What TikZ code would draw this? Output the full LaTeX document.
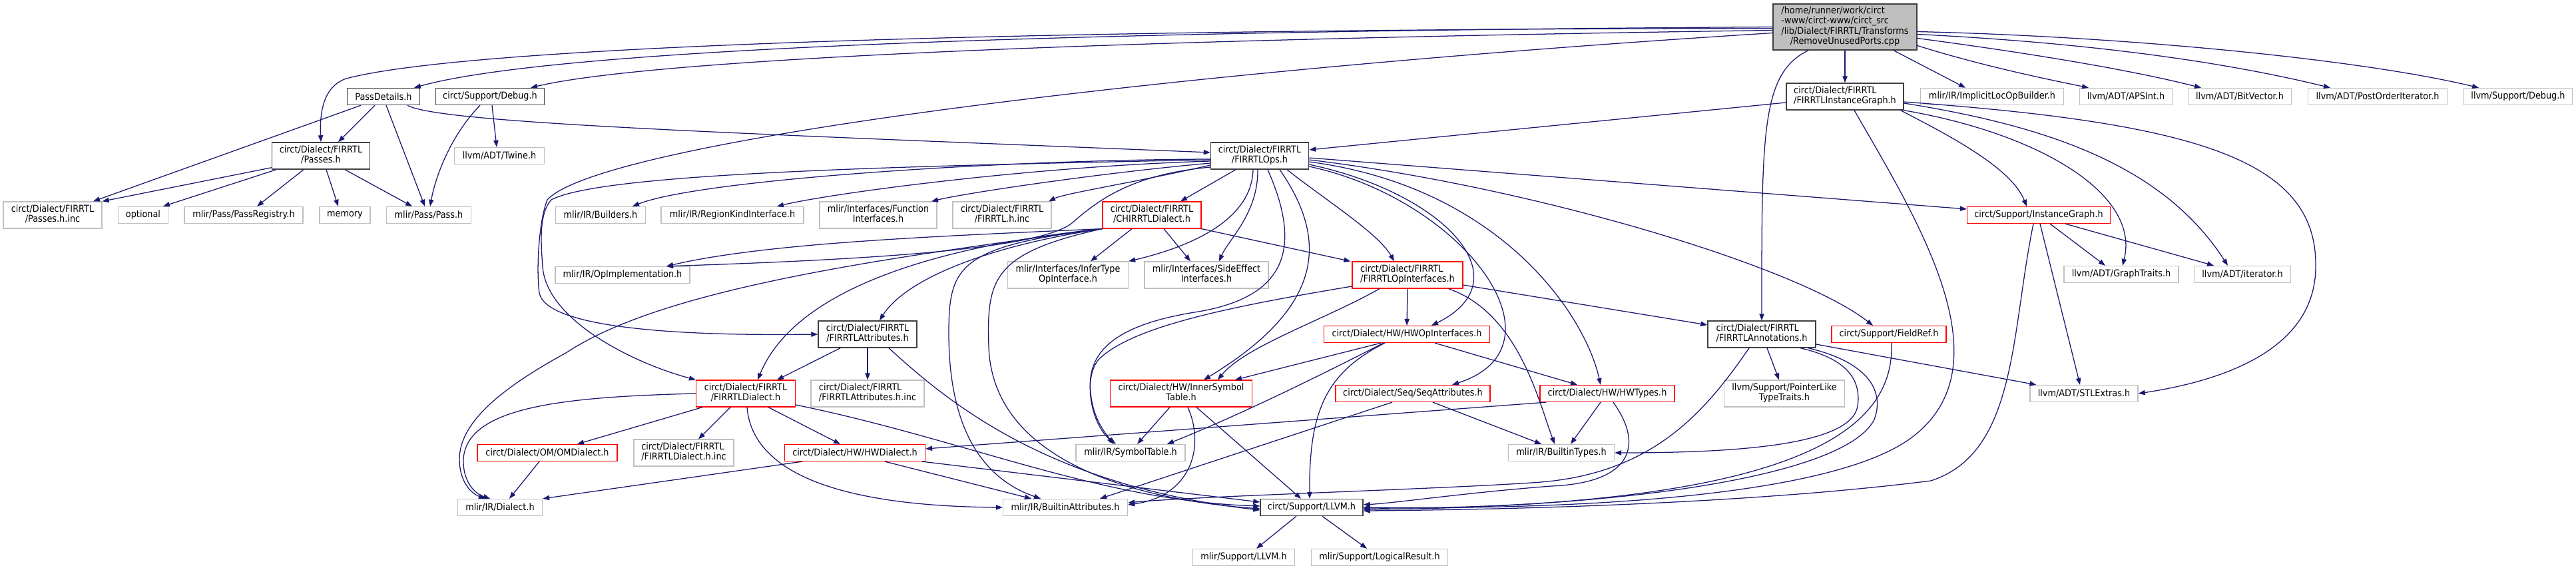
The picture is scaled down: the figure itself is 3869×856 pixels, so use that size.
\documentclass[tikz,border=0pt]{standalone}
\usepackage{fontspec}
\usetikzlibrary{arrows.meta,calc}
\newfontfamily\dxfont{DejaVu Sans}[FakeStretch=0.9]
\definecolor{edgec}{HTML}{191970}
\definecolor{gbord}{HTML}{BFBFBF}
\definecolor{dbord}{HTML}{404040}
\definecolor{rbord}{HTML}{FF0000}
\newcommand\twol[2]{\begin{tabular}{@{}l@{}}#1\\\multicolumn{1}{@{}c@{}}{#2}\end{tabular}}
\newcommand\mknode[7]{\node[#1,minimum width=#5*0.75pt,minimum height=#6*0.75pt] (#2) at (#3,#4) {#7};}
\tikzset{
  nbase/.style={rectangle,inner sep=0pt,fill=white,font=\dxfont\fontsize{10.7}{11.25}\selectfont},
  ext/.style={nbase,draw=gbord,line width=1pt},
  doc/.style={nbase,draw=dbord,line width=1.1pt},
  trunc/.style={nbase,draw=rbord,line width=0.9pt},
  rootn/.style={nbase,fill=gbord,draw=dbord,line width=1.1pt},
  e/.style={draw=edgec,line width=0.95pt,-{Triangle[length=7.5pt,width=5.5pt]}}
}
\begin{document}
\begin{tikzpicture}[x=0.75pt,y=-0.75pt]
\useasboundingbox (0,0) rectangle (3869,856);
% nodes
\mknode{rootn}{root}{2771}{40.5}{216}{69}{\begin{tabular}{@{}l@{}}/home/runner/work/circt\\-www/circt-www/circt\_src\\/lib/Dialect/FIRRTL/Transforms\\\multicolumn{1}{@{}c@{}}{/RemoveUnusedPorts.cpp}\end{tabular}}
\mknode{doc}{pd}{576}{145}{109}{25}{PassDetails.h}
\mknode{doc}{cdbg}{736}{145}{163}{25}{circt/Support/Debug.h}
\mknode{doc}{fig}{2771}{145}{176}{40}{\twol{circt/Dialect/FIRRTL}{/FIRRTLInstanceGraph.h}}
\mknode{ext}{ilob}{2992}{145}{215}{25}{mlir/IR/ImplicitLocOpBuilder.h}
\mknode{ext}{aps}{3193}{145}{139}{25}{llvm/ADT/APSInt.h}
\mknode{ext}{bv}{3364}{145}{155}{25}{llvm/ADT/BitVector.h}
\mknode{ext}{poi}{3571}{145}{209}{25}{llvm/ADT/PostOrderIterator.h}
\mknode{ext}{ldbg}{3782}{145}{163}{25}{llvm/Support/Debug.h}
\mknode{doc}{passes}{482}{234}{147}{40}{\twol{circt/Dialect/FIRRTL}{/Passes.h}}
\mknode{ext}{twine}{750}{234}{135}{25}{llvm/ADT/Twine.h}
\mknode{doc}{fops}{1892}{234}{147}{40}{\twol{circt/Dialect/FIRRTL}{/FIRRTLOps.h}}
\mknode{ext}{pinc}{79}{323}{148}{40}{\twol{circt/Dialect/FIRRTL}{/Passes.h.inc}}
\mknode{ext}{opt}{215}{323}{75}{25}{optional}
\mknode{ext}{preg}{366}{323}{178}{25}{mlir/Pass/PassRegistry.h}
\mknode{ext}{mem}{518}{323}{76}{25}{memory}
\mknode{ext}{pass}{644}{323}{127}{25}{mlir/Pass/Pass.h}
\mknode{ext}{bld}{902}{323}{135}{25}{mlir/IR/Builders.h}
\mknode{ext}{rki}{1100}{323}{214}{25}{mlir/IR/RegionKindInterface.h}
\mknode{ext}{fif}{1319}{323}{176}{40}{\twol{mlir/Interfaces/Function}{Interfaces.h}}
\mknode{ext}{finc}{1505}{323}{148}{40}{\twol{circt/Dialect/FIRRTL}{/FIRRTL.h.inc}}
\mknode{trunc}{chir}{1730}{323}{148}{40}{\twol{circt/Dialect/FIRRTL}{/CHIRRTLDialect.h}}
\mknode{trunc}{instg}{3062}{323}{215}{25}{circt/Support/InstanceGraph.h}
\mknode{ext}{opimpl}{935}{413}{202}{25}{mlir/IR/OpImplementation.h}
\mknode{ext}{itoi}{1604}{413}{181}{40}{\twol{mlir/Interfaces/InferType}{OpInterface.h}}
\mknode{ext}{seif}{1812}{413}{186}{40}{\twol{mlir/Interfaces/SideEffect}{Interfaces.h}}
\mknode{trunc}{foif}{2114}{413}{166}{40}{\twol{circt/Dialect/FIRRTL}{/FIRRTLOpInterfaces.h}}
\mknode{ext}{gt}{3186}{412}{172}{25}{llvm/ADT/GraphTraits.h}
\mknode{ext}{iter}{3368}{412}{145}{25}{llvm/ADT/iterator.h}
\mknode{doc}{fattr}{1303}{502}{148}{40}{\twol{circt/Dialect/FIRRTL}{/FIRRTLAttributes.h}}
\mknode{trunc}{hwoi}{2113}{502}{249}{25}{circt/Dialect/HW/HWOpInterfaces.h}
\mknode{doc}{fanno}{2646}{502}{162}{40}{\twol{circt/Dialect/FIRRTL}{/FIRRTLAnnotations.h}}
\mknode{trunc}{fref}{2837}{502}{172}{25}{circt/Support/FieldRef.h}
\mknode{trunc}{fdia}{1120}{591}{149}{40}{\twol{circt/Dialect/FIRRTL}{/FIRRTLDialect.h}}
\mknode{ext}{fainc}{1303}{591}{170}{40}{\twol{circt/Dialect/FIRRTL}{/FIRRTLAttributes.h.inc}}
\mknode{trunc}{ist}{1774}{591}{213}{40}{\twol{circt/Dialect/HW/InnerSymbol}{Table.h}}
\mknode{trunc}{seq}{2122}{591}{232}{25}{circt/Dialect/Seq/SeqAttributes.h}
\mknode{trunc}{hwt}{2414}{591}{202}{25}{circt/Dialect/HW/HWTypes.h}
\mknode{ext}{plt}{2680}{591}{181}{40}{\twol{llvm/Support/PointerLike}{TypeTraits.h}}
\mknode{ext}{stl}{3130}{591}{162}{25}{llvm/ADT/STLExtras.h}
\mknode{ext}{fdinc}{1027}{680}{150}{40}{\twol{circt/Dialect/FIRRTL}{/FIRRTLDialect.h.inc}}
\mknode{trunc}{om}{822}{680}{210}{25}{circt/Dialect/OM/OMDialect.h}
\mknode{trunc}{hwd}{1284}{680}{211}{25}{circt/Dialect/HW/HWDialect.h}
\mknode{ext}{symt}{1698}{680}{164}{25}{mlir/IR/SymbolTable.h}
\mknode{ext}{bty}{2345}{680}{159}{25}{mlir/IR/BuiltinTypes.h}
\mknode{ext}{dia}{751}{762}{127}{25}{mlir/IR/Dialect.h}
\mknode{ext}{batt}{1600}{762}{187}{25}{mlir/IR/BuiltinAttributes.h}
\mknode{doc}{cllvm}{1970}{762}{154}{25}{circt/Support/LLVM.h}
\mknode{ext}{mllvm}{1868}{837}{153}{25}{mlir/Support/LLVM.h}
\mknode{ext}{lres}{2072}{837}{205}{25}{mlir/Support/LogicalResult.h}
% root edges
\draw[e] (root.west) .. controls (1400,48) and (800,82) .. ($(pd.north)+(46,0)$);
\draw[e] ($(root.west)+(0,5)$) .. controls (1500,62) and (950,95) .. ($(cdbg.north)+(61,0)$);
\draw[e] ($(root.west)+(0,2)$) .. controls (1500,44) and (700,70) .. (520,118) .. controls (485,130) and (480,170) .. (passes.north);
\draw[e] ($(root.west)+(0,9)$) .. controls (1700,110) and (900,215) .. (822,300) .. controls (810,330) and (805,400) .. (810,440) .. controls (820,490) and (1000,505) .. (fattr.west);
\draw[e] (root.south) -- (fig.north);
\draw[e] ($(root.south)+(-55,0)$) .. controls (2645,110) and (2646,200) .. (fanno.north);
\draw[e] ($(root.south)+(73,0)$) -- ($(ilob.north)+(-40,0)$);
\draw[e] ($(root.east)+(0,28)$) .. controls (2980,100) and (3080,120) .. ($(aps.north)+(-56,0)$);
\draw[e] ($(root.east)+(0,17)$) .. controls (3050,80) and (3200,105) .. ($(bv.north)+(-58,0)$);
\draw[e] ($(root.east)+(0,11)$) .. controls (3150,65) and (3350,95) .. ($(poi.north)+(-71,0)$);
\draw[e] ($(root.east)+(0,7)$) .. controls (3200,55) and (3550,90) .. ($(ldbg.north)+(-59,0)$);
% PassDetails
\draw[e] ($(pd.south)+(-34,0)$) -- ($(pinc.north)+(61,0)$);
\draw[e] ($(pd.south)+(-13,0)$) -- ($(passes.north)+(26,0)$);
\draw[e] ($(pd.south)+(4,0)$) -- ($(pass.north)+(-6,0)$);
\draw[e] ($(pd.south)+(36,0)$) .. controls (660,185) and (1100,200) .. ($(fops.west)+(0,-5)$);
% circt Debug
\draw[e] ($(cdbg.south)+(-15,0)$) .. controls (680,200) and (655,260) .. ($(pass.north)+(2,0)$);
\draw[e] ($(cdbg.south)+(3,0)$) -- ($(twine.north)+(-4,0)$);
% Passes.h
\draw[e] ($(passes.south west)+(0,-3)$) -- (pinc.north east);
\draw[e] ($(passes.south)+(-67,0)$) -- ($(opt.north)+(30,0)$);
\draw[e] ($(passes.south)+(-26,0)$) -- ($(preg.north)+(20,0)$);
\draw[e] ($(passes.south)+(8,0)$) -- ($(mem.north)+(-10,0)$);
\draw[e] ($(passes.south)+(36,0)$) -- ($(pass.north)+(-25,0)$);
% FIRRTLInstanceGraph
\draw[e] ($(fig.west)+(0,9)$) -- ($(fops.east)+(0,-9)$);
\draw[e] ($(fig.south)+(14,0)$) .. controls (2880,330) and (3010,540) .. (2880,650) .. controls (2760,755) and (2300,765) .. (cllvm.east);
\draw[e] ($(fig.south east)+(-5,0)$) .. controls (2920,200) and (3020,250) .. ($(instg.north)+(-18,0)$);
\draw[e] (fig.south east) .. controls (3060,200) and (3215,290) .. ($(gt.north)+(2,0)$);
\draw[e] ($(fig.east)+(0,10)$) .. controls (3080,190) and (3250,250) .. ($(iter.north)+(-22,0)$);
\draw[e] ($(fig.east)+(0,8)$) .. controls (3300,185) and (3480,240) .. (3478,400) .. controls (3478,520) and (3350,570) .. (stl.east);
% FIRRTLOps
\draw[e] ($(fops.west)+(0,5)$) .. controls (1500,240) and (1050,270) .. ($(bld.north)+(48,0)$);
\draw[e] ($(fops.west)+(0,8)$) .. controls (1550,250) and (1250,290) .. ($(rki.north)+(67,0)$);
\draw[e] ($(fops.west)+(0,11)$) .. controls (1650,260) and (1450,290) .. ($(fif.north)+(80,0)$);
\draw[e] ($(fops.west)+(0,14)$) .. controls (1700,275) and (1600,290) .. ($(finc.north)+(70,0)$);
\draw[e] ($(fops.west)+(0,6)$) .. controls (1300,250) and (900,262) .. (828,300) .. controls (810,320) and (812,360) .. (815,400) .. controls (820,480) and (950,545) .. (fdia.north west);
\draw[e] ($(fops.west)+(0,17)$) .. controls (1700,262) and (1650,300) .. (1610,335) .. controls (1560,375) and (1300,390) .. ($(opimpl.north)+(66,0)$);
\draw[e] ($(fops.south)+(-36,0)$) -- ($(chir.north)+(43,0)$);
\draw[e] ($(fops.south)+(-10,0)$) .. controls (1880,330) and (1790,370) .. (itoi.north east);
\draw[e] ($(fops.south)+(-3,0)$) .. controls (1890,320) and (1845,360) .. ($(seif.north)+(19,0)$);
\draw[e] ($(fops.south)+(41,0)$) .. controls (1990,300) and (2070,350) .. ($(foif.north)+(-20,0)$);
\draw[e] ($(fops.east)+(0,13)$) .. controls (2170,290) and (2290,420) .. ($(hwoi.north)+(37,0)$);
\draw[e] ($(fops.east)+(0,3)$) -- ($(instg.west)+(0,-9)$);
\draw[e] ($(fops.east)+(0,6)$) .. controls (2300,280) and (2700,400) .. ($(fref.north)+(-24,0)$);
\draw[e] ($(fops.east)+(0,9)$) .. controls (2250,280) and (2380,470) .. ($(hwt.north)+(-10,0)$);
\draw[e] ($(fops.east)+(0,16)$) .. controls (2200,300) and (2360,520) .. ($(seq.north)+(59,0)$);
\draw[e] ($(fops.south)+(12,0)$) .. controls (1955,370) and (1935,445) .. (1800,468) .. controls (1690,485) and (1630,520) .. (1638,590) .. controls (1642,630) and (1660,650) .. ($(symt.north)+(-26,0)$);
\draw[e] ($(fops.south)+(30,0)$) .. controls (1995,360) and (1990,460) .. ($(ist.north)+(34,0)$);
% CHIRRTLDialect
\draw[e] (chir.south west) .. controls (1400,355) and (1150,365) .. ($(opimpl.north)+(66,0)$);
\draw[e] (chir.south west) .. controls (1350,385) and (1000,430) .. (850,530) .. controls (740,590) and (690,640) .. (690,690) .. controls (690,720) and (705,740) .. ($(dia.north)+(-22,0)$);
\draw[e] (chir.south west) .. controls (1450,365) and (1200,420) .. ($(fdia.north)+(18,0)$);
\draw[e] (chir.south west) .. controls (1480,370) and (1360,420) .. ($(fattr.north)+(18,0)$);
\draw[e] (chir.south west) .. controls (1440,370) and (1425,400) .. (1425,500) .. controls (1425,650) and (1480,720) .. ($(batt.north)+(-37,0)$);
\draw[e] (chir.south west) .. controls (1490,380) and (1482,420) .. (1485,520) .. controls (1490,690) and (1700,750) .. ($(cllvm.west)+(0,2)$);
\draw[e] ($(chir.south)+(-30,0)$) -- ($(itoi.north)+(34,0)$);
\draw[e] ($(chir.south)+(18,0)$) -- ($(seif.north)+(-24,0)$);
\draw[e] (chir.south east) -- ($(foif.north west)+(-2,0)$);
% FIRRTLOpInterfaces
\draw[e] (foif.south) -- (hwoi.north);
\draw[e] ($(foif.west)+(0,17)$) .. controls (1850,460) and (1700,490) .. (1650,540) .. controls (1625,570) and (1640,640) .. ($(symt.north)+(-22,0)$);
\draw[e] ($(foif.south)+(-42,0)$) .. controls (1990,480) and (1870,520) .. ($(ist.north)+(55,0)$);
\draw[e] ($(foif.south east)+(-22,0)$) .. controls (2280,470) and (2310,600) .. ($(bty.north)+(-10,0)$);
\draw[e] ($(foif.east)+(0,15)$) -- ($(fanno.west)+(0,-14)$);
% HWOpInterfaces
\draw[e] ($(hwoi.south)+(-39,0)$) -- ($(ist.north)+(81,0)$);
\draw[e] ($(hwoi.south)+(-35,0)$) .. controls (1990,560) and (1870,620) .. ($(symt.north)+(55,0)$);
\draw[e] ($(hwoi.south)+(-33,0)$) .. controls (1990,560) and (1966,620) .. ($(cllvm.north)+(-3,0)$);
\draw[e] ($(hwoi.south)+(42,0)$) -- ($(hwt.north)+(-45,0)$);
% HWTypes
\draw[e] ($(hwt.south)+(-10,0)$) -- ($(bty.north)+(14,0)$);
\draw[e] ($(hwt.south west)+(10,0)$) -- ($(hwd.east)+(0,-6)$);
\draw[e] ($(hwt.south)+(9,0)$) .. controls (2470,670) and (2450,725) .. (2330,730) .. controls (2200,740) and (2100,755) .. ($(cllvm.east)+(0,-4)$);
% SeqAttributes
\draw[e] ($(seq.south)+(30,0)$) -- ($(bty.north)+(-30,0)$);
\draw[e] ($(seq.south)+(-31,0)$) -- ($(batt.north)+(52,0)$);
% InnerSymbolTable
\draw[e] ($(ist.south)+(-17,0)$) -- ($(symt.north)+(10,0)$);
\draw[e] ($(ist.south)+(10,0)$) .. controls (1810,670) and (1790,745) .. ($(batt.east)+(0,-4)$);
\draw[e] ($(ist.south)+(23,0)$) -- ($(cllvm.north)+(-16,0)$);
% FIRRTLAnnotations
\draw[e] ($(fanno.south)+(8,0)$) -- ($(plt.north)+(-8,0)$);
\draw[e] ($(fanno.east)+(0,15)$) -- ($(stl.north west)+(10,0)$);
\draw[e] ($(fanno.south)+(58,0)$) .. controls (2780,540) and (2795,575) .. (2790,610) .. controls (2780,670) and (2600,680) .. (bty.east);
\draw[e] ($(fanno.south)+(70,0)$) .. controls (2810,545) and (2830,590) .. (2815,630) .. controls (2770,720) and (2400,765) .. ($(cllvm.east)+(0,1)$);
\draw[e] ($(fanno.south)+(-19,0)$) .. controls (2560,620) and (2480,715) .. (2300,725) .. controls (2150,735) and (1800,745) .. ($(batt.east)+(0,-7)$);
% FieldRef
\draw[e] ($(fref.south)+(4,0)$) .. controls (2845,640) and (2720,760) .. ($(cllvm.east)+(0,3)$);
% InstanceGraph
\draw[e] ($(instg.south)+(-8,0)$) .. controls (3020,500) and (3030,680) .. (2900,722) .. controls (2600,760) and (2200,766) .. ($(cllvm.east)+(0,5)$);
\draw[e] ($(instg.south)+(2,0)$) -- ($(stl.north)+(-6,0)$);
\draw[e] ($(instg.south)+(17,0)$) -- ($(gt.north)+(-24,0)$);
\draw[e] ($(instg.south)+(40,0)$) -- ($(iter.north)+(-43,0)$);
% FIRRTLAttributes
\draw[e] ($(fattr.south)+(-41,0)$) -- ($(fdia.north)+(47,0)$);
\draw[e] (fattr.south) -- (fainc.north);
\draw[e] ($(fattr.south)+(32,0)$) .. controls (1430,610) and (1580,730) .. ($(cllvm.west)+(0,4)$);
% FIRRTLDialect
\draw[e] ($(fdia.south)+(-23,0)$) -- ($(fdinc.north)+(22,0)$);
\draw[e] ($(fdia.south)+(34,0)$) -- ($(hwd.north)+(-22,0)$);
\draw[e] ($(fdia.south)+(2,0)$) .. controls (1130,710) and (1260,760) .. (batt.west);
\draw[e] ($(fdia.east)+(0,17)$) .. controls (1450,660) and (1650,752) .. ($(cllvm.west)+(0,-2)$);
\draw[e] ($(fdia.south west)+(10,0)$) -- ($(om.north)+(45,0)$);
\draw[e] (fdia.west) .. controls (850,596) and (700,610) .. (696,690) .. controls (695,720) and (710,740) .. ($(dia.north)+(-15,0)$);
% HWDialect
\draw[e] ($(hwd.south west)+(27,0)$) -- (dia.north east);
\draw[e] ($(hwd.south)+(45,0)$) -- ($(batt.north)+(-51,0)$);
\draw[e] ($(hwd.south east)+(-5,0)$) -- ($(cllvm.west)+(0,-8)$);
% OMDialect
\draw[e] ($(om.south)+(-12,0)$) -- ($(dia.north)+(14,0)$);
% circt LLVM
\draw[e] ($(cllvm.south)+(-23,0)$) -- ($(mllvm.north)+(19,0)$);
\draw[e] ($(cllvm.south)+(16,0)$) -- ($(lres.north)+(-19,0)$);
\end{tikzpicture}
\end{document}
